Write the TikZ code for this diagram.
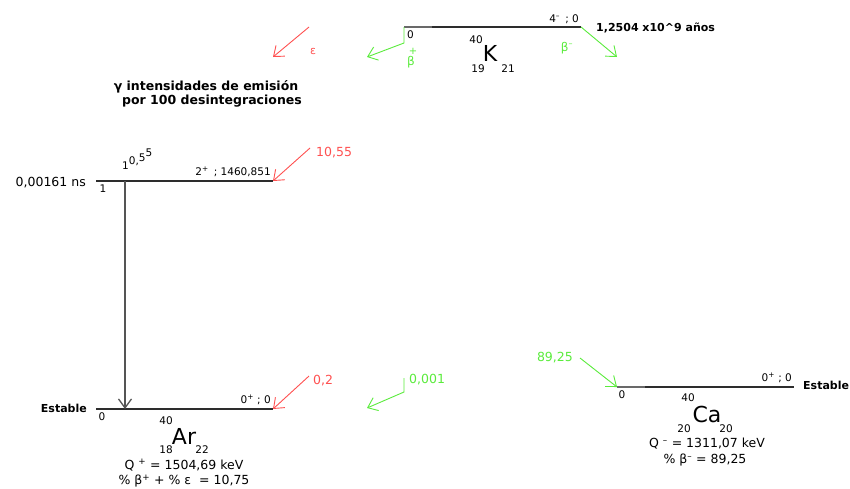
\documentclass[tikz,border=0pt]{standalone}
\usepackage{fontspec}
\setmainfont{DejaVu Sans}
\usetikzlibrary{positioning, arrows.meta}

\definecolor{decayred}{RGB}{255,80,80}
\definecolor{decaygreen}{RGB}{90,235,60}
\definecolor{levelgray}{RGB}{45,45,45}
\definecolor{levellight}{RGB}{105,105,105}
\definecolor{gammagray}{RGB}{85,85,85}

\newcommand{\fs}[1]{\fontsize{#1}{#1}\selectfont}

\begin{document}
\begin{tikzpicture}[x=1pt, y=-1pt,
    every node/.style={inner sep=0pt, font=\fs{10.5}},
    level/.style={line width=1.6pt, draw=levelgray},
    decay/.style={-{Straight Barb[length=9pt, width=14pt]}, line width=0.9pt},
    gammaline/.style={-{Straight Barb[length=9pt, width=13pt]}, line width=1.3pt, draw=gammagray},
    nucl/.style={font=\fs{22}},
    bold/.style={font=\fs{11}\bfseries},
    redlab/.style={font=\fs{12.5}, text=decayred},
    greenlab/.style={font=\fs{12.5}, text=decaygreen}]
  \useasboundingbox (0,0) rectangle (850,488);

  % niveles
  \coordinate (K0) at (404,27);
  \coordinate (Km) at (432,27);
  \coordinate (K1) at (581,27);
  \coordinate (Ar20) at (96,181);
  \coordinate (Ar21) at (273,181);
  \coordinate (Ar0) at (96,409);
  \coordinate (Ar1) at (273,409);
  \coordinate (Ca0) at (617,387);
  \coordinate (Cam) at (645,387);
  \coordinate (Ca1) at (794,387);

  \draw[level, draw=levellight] (K0) -- (Km);
  \draw[level] (Km) -- (K1);
  \draw[level] (Ar20) -- (Ar21);
  \draw[level] (Ar0) -- (Ar1);
  \draw[level, draw=levellight] (Ca0) -- (Cam);
  \draw[level] (Cam) -- (Ca1);

  % 40K
  \node[above left=3pt and 2pt of K1] (kspin) {4\textsuperscript{--}\, ; 0};
  \node[below right=4pt and 3pt of K0] (kzero) {0};
  \node (kA) at (476,40) {40};
  \node[nucl] (kname) at (490,53) {K};
  \node (kZ) at (478,69) {19};
  \node (kN) at (508,69) {21};
  \node[bold, anchor=west] (khalf) at (596,28) {1,2504 x10\^{}9 años};

  % ramas de desintegracion
  \coordinate (bpA) at (404,43);
  \coordinate (bpB) at (367,57);
  \draw[decay, decaygreen] (K0) -- (bpA) -- (bpB);
  \node[text=decaygreen, font=\fs{10}] (bpsign) at (413,51) {+};
  \node[text=decaygreen, font=\fs{12}] (bplus) at (411,62) {β};

  \coordinate (ecA) at (309,27);
  \coordinate (ecB) at (273,57);
  \draw[decay, decayred] (ecA) -- (ecB);
  \node[text=decayred, font=\fs{11}] (eclab) at (313,51) {ε};

  \coordinate (bmB) at (617,57);
  \draw[decay, decaygreen] (K1) -- (bmB);
  \node[text=decaygreen, font=\fs{12}] (bminus) at (567,48) {β\textsuperscript{--}};

  \node[bold, font=\fs{12.5}\bfseries] (gtitle) at (206,87) {γ intensidades de emisión};
  \node[bold, font=\fs{12.5}\bfseries] (gtitleb) at (212,101) {por 100 desintegraciones};

  % 40Ar, nivel 2+
  \node[font=\fs{12.5}, anchor=east] (arlife) at (86,183) {0,00161 ns};
  \node (arone) at (103,189) {1};
  \node[above left=4pt and 2pt of Ar21] (arspinb) {2\textsuperscript{+} \,; 1460,851};
  \node[anchor=south west] (gint) at (122,170)
    {1\raisebox{5pt}{0,}\raisebox{8pt}{5}\raisebox{13pt}{5}};

  \coordinate (gtop) at (125,181);
  \coordinate (gbot) at (125,409);
  \draw[gammaline] (gtop) -- (gbot);

  \coordinate (ecbA) at (310,148);
  \draw[decay, decayred] (ecbA) -- (Ar21);
  \node[redlab, anchor=west] (ecblab) at (316,153) {10,55};

  % 40Ar, fundamental
  \node[bold, anchor=east] (arstable) at (87,408) {Estable};
  \node (arzero) at (102,417) {0};
  \node[above left=4pt and 2pt of Ar1] (arspin) {0\textsuperscript{+} ; 0};
  \node (arA) at (166,421) {40};
  \node[nucl] (arname) at (184,436) {Ar};
  \node (arZ) at (166,450) {18};
  \node (arN) at (202,450) {22};
  \node[font=\fs{12.5}] (arQ) at (184,465) {Q \textsuperscript{+} = 1504,69 keV};
  \node[font=\fs{12.5}] (arpct) at (184,481) {\% β\textsuperscript{+} + \% ε \ = 10,75};

  \coordinate (ecaA) at (309,376);
  \draw[decay, decayred] (ecaA) -- (Ar1);
  \node[redlab, anchor=west] (ecalab) at (313,381) {0,2};

  \coordinate (bpaA) at (404,378);
  \coordinate (bpaB) at (404,392);
  \coordinate (bpaC) at (367,408);
  \draw[decay, decaygreen] (bpaA) -- (bpaB) -- (bpaC);
  \node[greenlab, anchor=west] (bpalab) at (409,380) {0,001};

  % 40Ca
  \node[bold, anchor=west] (castable) at (803,385) {Estable};
  \node (cazero) at (622,395) {0};
  \node[above left=4pt and 2pt of Ca1] (caspin) {0\textsuperscript{+} ; 0};
  \node (caA) at (688,398) {40};
  \node[nucl] (caname) at (707,414) {Ca};
  \node (caZ) at (684,429) {20};
  \node (caN) at (726,429) {20};
  \node[font=\fs{12.5}] (caQ) at (707,444) {Q \textsuperscript{--} = 1311,07 keV};
  \node[font=\fs{12.5}] (capct) at (705,460) {\% β\textsuperscript{--} = 89,25};

  \coordinate (bmaA) at (580,358);
  \draw[decay, decaygreen] (bmaA) -- (Ca0);
  \node[greenlab, anchor=east] (bmalab) at (573,358) {89,25};
\end{tikzpicture}
\end{document}
